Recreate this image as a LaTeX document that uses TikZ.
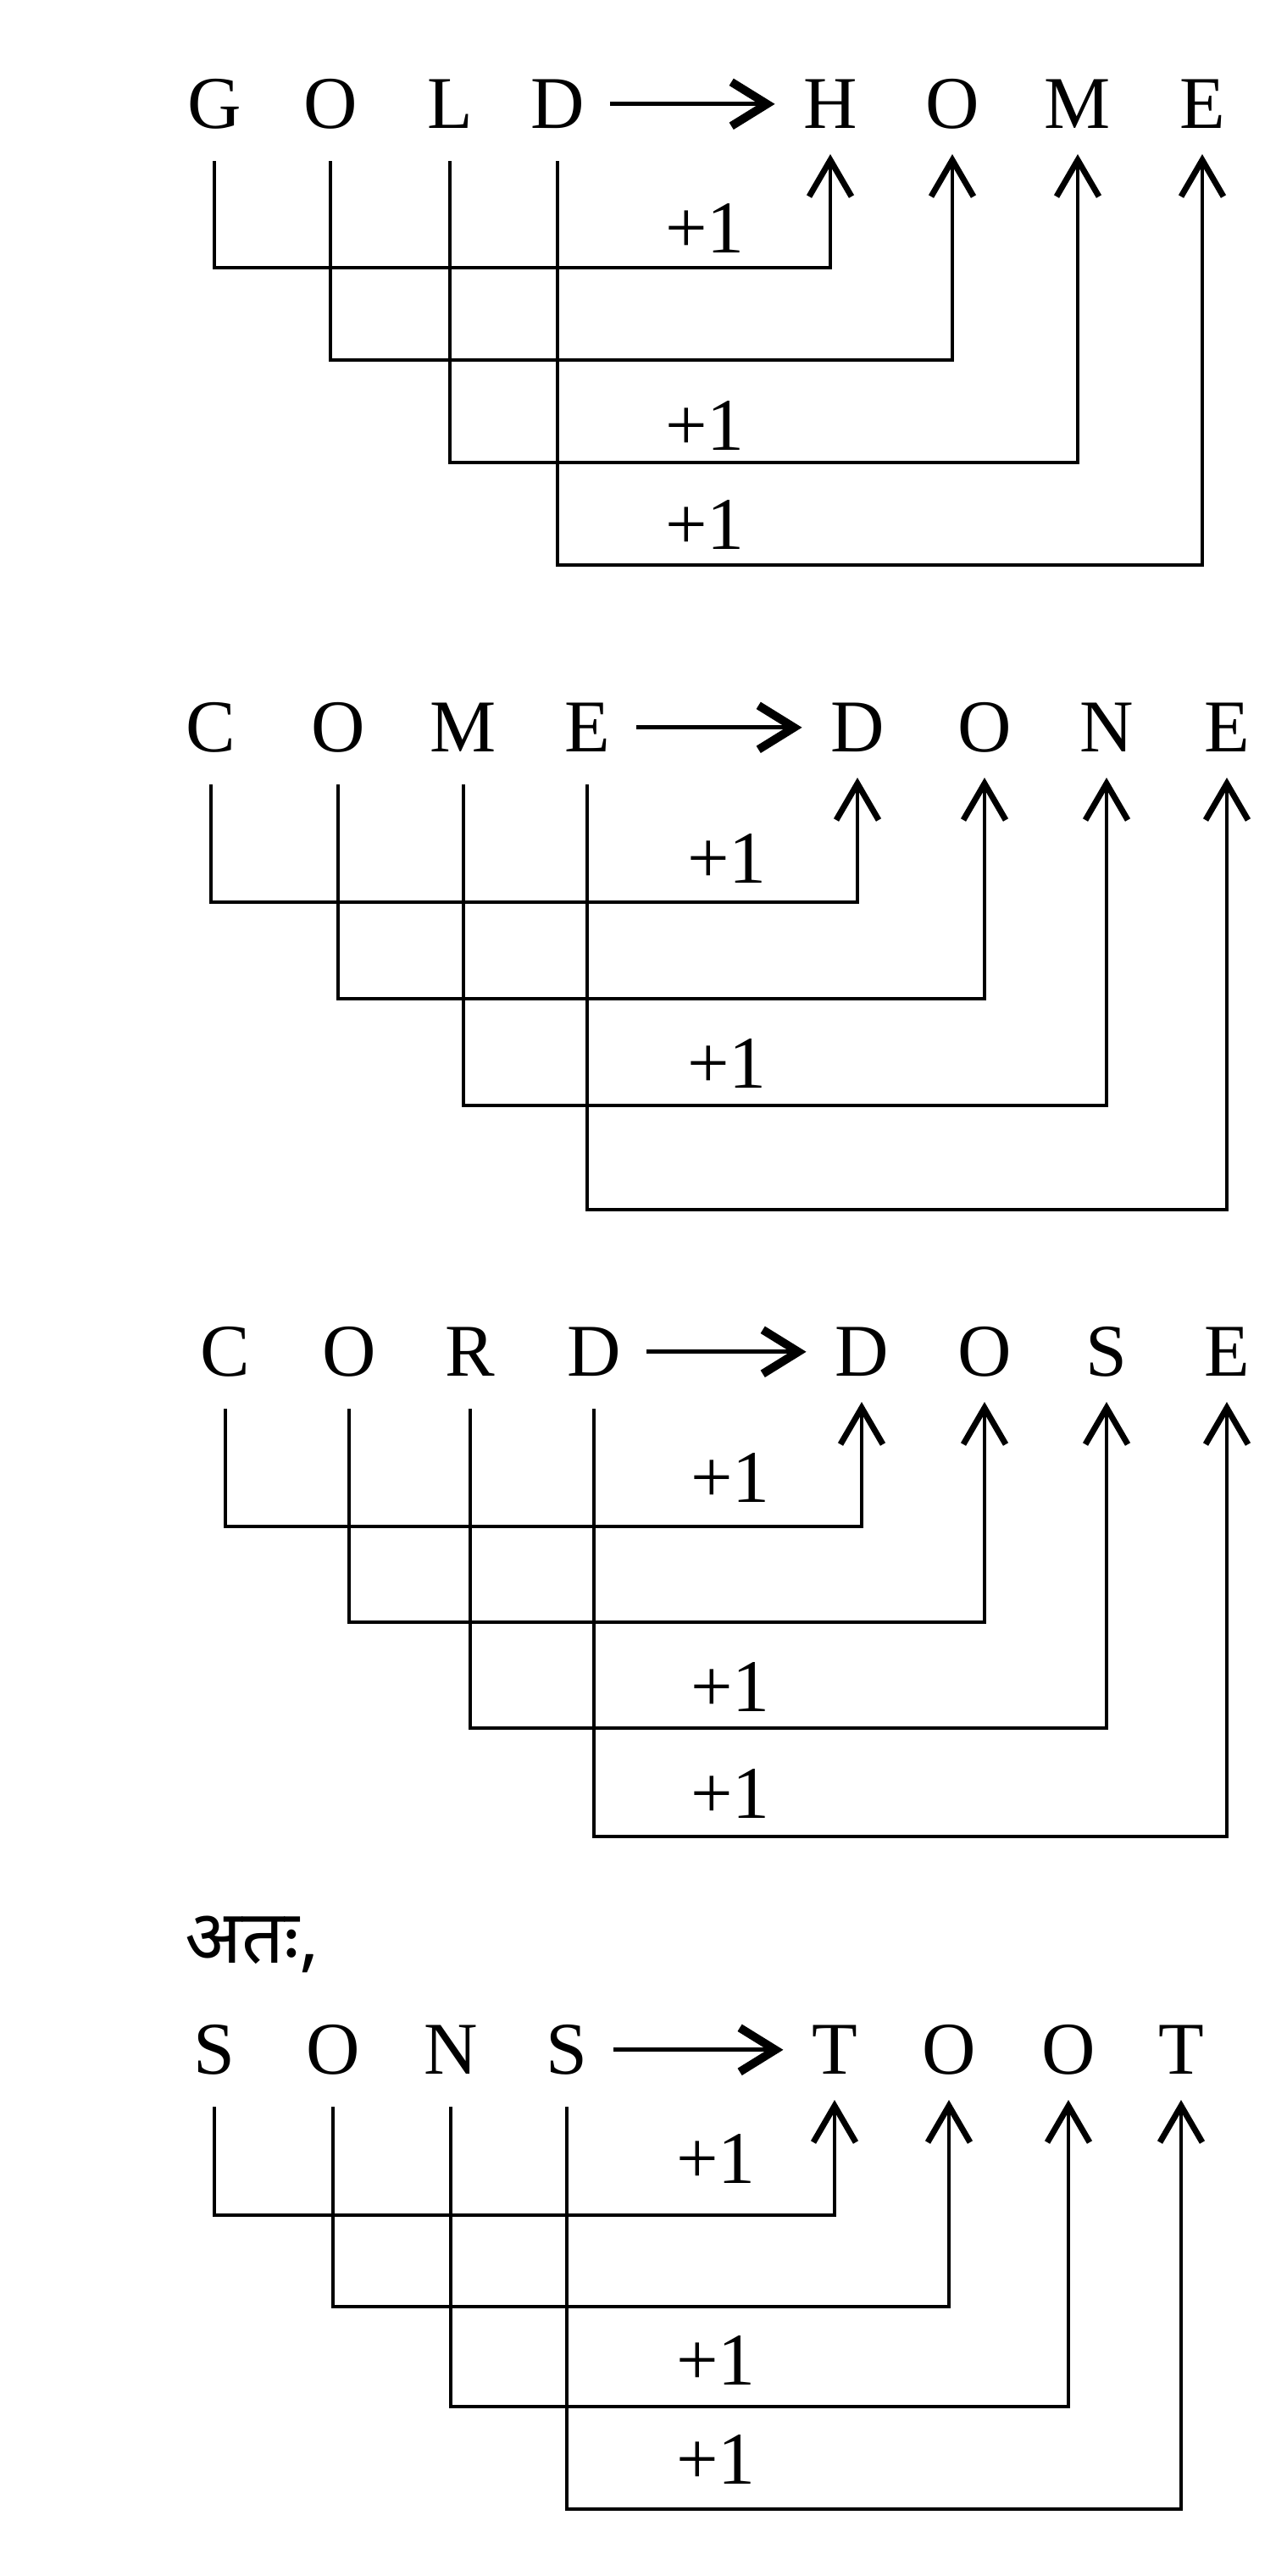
\documentclass[tikz,border=0pt]{standalone}
\usepackage{fontspec}
\setmainfont{Liberation Serif}
\newfontfamily\hindifont[Script=Devanagari]{Noto Sans}
\usetikzlibrary{arrows.meta}

\begin{document}
\begin{tikzpicture}[
  letter/.style={font=\fontsize{25}{30}\selectfont, inner sep=0pt, text height=0.57cm, text depth=0pt, anchor=south},
  plusone/.style={font=\fontsize{25}{30}\selectfont, inner sep=0pt, anchor=base},
  link/.style={line width=1.4pt, shorten <=0.38cm, shorten >=0.3cm, -{Straight Barb[length=0.43cm,width=0.5cm,line width=2pt]}},
  maps/.style={line width=1.5pt, shorten <=0.3cm, shorten >=0.33cm, -{Straight Barb[length=0.42cm,width=0.52cm,line width=2.8pt]}}
]
\useasboundingbox (0,0) rectangle (15.19,-30.41);

\node[letter] (gold1) at (2.53,-1.52) {G};
\node[letter] (gold2) at (3.90,-1.52) {O};
\node[letter] (gold3) at (5.31,-1.52) {L};
\node[letter] (gold4) at (6.58,-1.52) {D};
\node[letter] (home1) at (9.80,-1.52) {H};
\node[letter] (home2) at (11.24,-1.52) {O};
\node[letter] (home3) at (12.72,-1.52) {M};
\node[letter] (home4) at (14.19,-1.52) {E};
\draw[maps] (gold4.east) -- (home1.west);
\draw[link] (gold1.south) -- (gold1.south |- 0,-3.16) -| (home1.south);
\draw[link] (gold2.south) -- (gold2.south |- 0,-4.25) -| (home2.south);
\draw[link] (gold3.south) -- (gold3.south |- 0,-5.46) -| (home3.south);
\draw[link] (gold4.south) -- (gold4.south |- 0,-6.67) -| (home4.south);
\node[plusone] (inc11) at (8.32,-2.98) {+1};
\node[plusone] (inc13) at (8.32,-5.31) {+1};
\node[plusone] (inc14) at (8.32,-6.48) {+1};

\node[letter] (come1) at (2.49,-8.88) {C};
\node[letter] (come2) at (3.99,-8.88) {O};
\node[letter] (come3) at (5.47,-8.88) {M};
\node[letter] (come4) at (6.93,-8.88) {E};
\node[letter] (done1) at (10.12,-8.88) {D};
\node[letter] (done2) at (11.62,-8.88) {O};
\node[letter] (done3) at (13.06,-8.88) {N};
\node[letter] (done4) at (14.48,-8.88) {E};
\draw[maps] (come4.east) -- (done1.west);
\draw[link] (come1.south) -- (come1.south |- 0,-10.65) -| (done1.south);
\draw[link] (come2.south) -- (come2.south |- 0,-11.79) -| (done2.south);
\draw[link] (come3.south) -- (come3.south |- 0,-13.05) -| (done3.south);
\draw[link] (come4.south) -- (come4.south |- 0,-14.28) -| (done4.south);
\node[plusone] (inc21) at (8.58,-10.42) {+1};
\node[plusone] (inc23) at (8.58,-12.84) {+1};

\node[letter] (cord1) at (2.66,-16.25) {C};
\node[letter] (cord2) at (4.12,-16.25) {O};
\node[letter] (cord3) at (5.55,-16.25) {R};
\node[letter] (cord4) at (7.01,-16.25) {D};
\node[letter] (dose1) at (10.17,-16.25) {D};
\node[letter] (dose2) at (11.62,-16.25) {O};
\node[letter] (dose3) at (13.06,-16.25) {S};
\node[letter] (dose4) at (14.48,-16.25) {E};
\draw[maps] (cord4.east) -- (dose1.west);
\draw[link] (cord1.south) -- (cord1.south |- 0,-18.02) -| (dose1.south);
\draw[link] (cord2.south) -- (cord2.south |- 0,-19.15) -| (dose2.south);
\draw[link] (cord3.south) -- (cord3.south |- 0,-20.40) -| (dose3.south);
\draw[link] (cord4.south) -- (cord4.south |- 0,-21.68) -| (dose4.south);
\node[plusone] (inc31) at (8.62,-17.73) {+1};
\node[plusone] (inc33) at (8.62,-20.20) {+1};
\node[plusone] (inc34) at (8.62,-21.46) {+1};

\node[font=\hindifont\fontsize{25}{30}\selectfont, inner sep=0pt, anchor=base west] (hence) at (2.18,-23.17) {अतः,};

\node[letter] (sons1) at (2.53,-24.49) {S};
\node[letter] (sons2) at (3.93,-24.49) {O};
\node[letter] (sons3) at (5.32,-24.49) {N};
\node[letter] (sons4) at (6.69,-24.49) {S};
\node[letter] (toot1) at (9.85,-24.49) {T};
\node[letter] (toot2) at (11.20,-24.49) {O};
\node[letter] (toot3) at (12.61,-24.49) {O};
\node[letter] (toot4) at (13.94,-24.49) {T};
\draw[maps] (sons4.east) -- (toot1.west);
\draw[link] (sons1.south) -- (sons1.south |- 0,-26.15) -| (toot1.south);
\draw[link] (sons2.south) -- (sons2.south |- 0,-27.23) -| (toot2.south);
\draw[link] (sons3.south) -- (sons3.south |- 0,-28.41) -| (toot3.south);
\draw[link] (sons4.south) -- (sons4.south |- 0,-29.62) -| (toot4.south);
\node[plusone] (inc41) at (8.45,-25.77) {+1};
\node[plusone] (inc43) at (8.45,-28.15) {+1};
\node[plusone] (inc44) at (8.45,-29.32) {+1};
\end{tikzpicture}
\end{document}
